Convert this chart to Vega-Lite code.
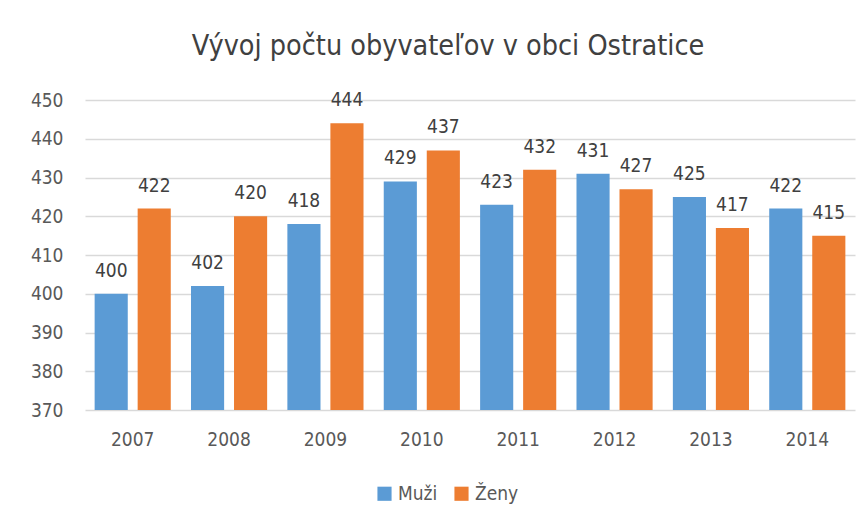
{
  "$schema": "https://vega.github.io/schema/vega-lite/v6.json",
  "width": 770,
  "height": 310,
  "autosize": "none",
  "padding": {"left": 85, "top": 100, "right": 12, "bottom": 116},
  "background": "white",
  "title": {
    "text": "Vývoj počtu obyvateľov v obci Ostratice",
    "frame": "group",
    "anchor": "middle",
    "offset": 31,
    "dx": -22,
    "fontSize": 28.5,
    "fontWeight": "normal",
    "color": "#404040",
    "font": "DejaVu Sans Condensed"
  },
  "config": {
    "view": {"stroke": null},
    "font": "DejaVu Sans Condensed"
  },
  "data": {
    "values": [
      {"rok": "2007", "pohlavie": "Muži", "pocet": 400},
      {"rok": "2007", "pohlavie": "Ženy", "pocet": 422},
      {"rok": "2008", "pohlavie": "Muži", "pocet": 402},
      {"rok": "2008", "pohlavie": "Ženy", "pocet": 420},
      {"rok": "2009", "pohlavie": "Muži", "pocet": 418},
      {"rok": "2009", "pohlavie": "Ženy", "pocet": 444},
      {"rok": "2010", "pohlavie": "Muži", "pocet": 429},
      {"rok": "2010", "pohlavie": "Ženy", "pocet": 437},
      {"rok": "2011", "pohlavie": "Muži", "pocet": 423},
      {"rok": "2011", "pohlavie": "Ženy", "pocet": 432},
      {"rok": "2012", "pohlavie": "Muži", "pocet": 431},
      {"rok": "2012", "pohlavie": "Ženy", "pocet": 427},
      {"rok": "2013", "pohlavie": "Muži", "pocet": 425},
      {"rok": "2013", "pohlavie": "Ženy", "pocet": 417},
      {"rok": "2014", "pohlavie": "Muži", "pocet": 422},
      {"rok": "2014", "pohlavie": "Ženy", "pocet": 415}
    ]
  },
  "encoding": {
    "x": {
      "field": "rok", "type": "nominal",
      "scale": {"paddingInner": 0.21, "paddingOuter": 0.1},
      "axis": {
        "title": null, "labelAngle": 0, "labelFontSize": 19, "labelColor": "#595959",
        "labelPadding": 20, "ticks": false, "domain": false
      }
    },
    "xOffset": {
      "field": "pohlavie", "type": "nominal",
      "scale": {"paddingInner": 0.23, "paddingOuter": 0}
    },
    "y": {
      "field": "pocet", "type": "quantitative",
      "scale": {"domain": [370, 450], "nice": false, "zero": false},
      "axis": {
        "title": null, "values": [370, 380, 390, 400, 410, 420, 430, 440, 450],
        "labelFontSize": 19, "labelColor": "#595959", "labelPadding": 22,
        "ticks": false, "domain": false, "gridColor": "#d9d9d9", "gridWidth": 1.3
      }
    }
  },
  "layer": [
    {
      "mark": {"type": "bar"},
      "encoding": {
        "y2": {"datum": 370},
        "color": {
          "field": "pohlavie", "type": "nominal",
          "scale": {"domain": ["Muži", "Ženy"], "range": ["#5B9BD5", "#ED7D31"]},
          "legend": {
            "title": null, "orient": "none", "legendX": 290, "legendY": 384, "direction": "horizontal",
            "symbolType": "square", "symbolSize": 200, "symbolStrokeWidth": 0,
            "labelFontSize": 19, "labelColor": "#595959",
            "columnPadding": 14, "labelOffset": 4
          }
        }
      }
    },
    {
      "mark": {"type": "text", "baseline": "bottom", "dy": -13, "fontSize": 19, "color": "#404040"},
      "encoding": {
        "text": {"field": "pocet", "type": "quantitative"}
      }
    }
  ]
}
